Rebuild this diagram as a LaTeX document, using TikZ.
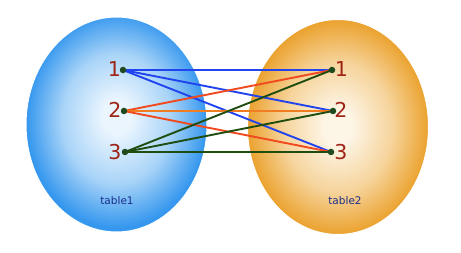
\documentclass[tikz,border=0pt]{standalone}
\usepackage{fontspec}
\setmainfont{DejaVu Sans}
\usetikzlibrary{shapes.geometric}
\definecolor{bin}{HTML}{EAF5FE}
\definecolor{bmid}{HTML}{A9D4F8}
\definecolor{bout}{HTML}{3597EE}
\definecolor{oin}{HTML}{FDF5E6}
\definecolor{omid}{HTML}{F6D49C}
\definecolor{oout}{HTML}{EBA22E}
\definecolor{lblue}{HTML}{2244EE}
\definecolor{lred}{HTML}{F04A1E}
\definecolor{lorange}{HTML}{F07D22}
\definecolor{lgreen}{HTML}{1F4D10}
\definecolor{numred}{HTML}{9E2417}
\definecolor{dotgreen}{HTML}{1E4A1E}
\definecolor{navy}{HTML}{1A2E8C}
\pgfdeclareradialshading{blueball}{\pgfpoint{0bp}{2bp}}{color(0bp)=(bin); color(4bp)=(bin); color(15bp)=(bmid); color(25bp)=(bout); color(50bp)=(bout)}
\pgfdeclareradialshading{orangeball}{\pgfpoint{0bp}{0bp}}{color(0bp)=(oin); color(4bp)=(oin); color(15bp)=(omid); color(25bp)=(oout); color(50bp)=(oout)}
\tikzset{
  tablebox/.style={ellipse, inner sep=0pt, minimum width=181pt, minimum height=215pt},
  conn/.style={line width=1.9pt},
  dotnode/.style={circle, fill=dotgreen, inner sep=0pt, minimum size=6.5pt},
  numlabel/.style={text=numred, font=\fontsize{20.5}{20}\selectfont, inner sep=0pt},
  tablelabel/.style={text=navy, font=\fontsize{10.5}{12}\selectfont, inner sep=0pt}
}
\begin{document}
\begin{tikzpicture}[x=1pt,y=-1pt]
\useasboundingbox (0,0) rectangle (461,253);
\node[tablebox, shading=blueball, draw=white, line width=1pt] (t1) at (116.5,124.5) {};
\node[tablebox, shading=orangeball, draw=white, line width=1pt] (t2) at (338,127) {};
\coordinate (l1) at (123,70);
\coordinate (l2) at (124,111);
\coordinate (l3) at (125,152);
\coordinate (r1) at (332,70);
\coordinate (r2) at (333,111);
\coordinate (r3) at (331,152);
\draw[conn, lblue] (l1) -- (r1);
\draw[conn, lblue] (l1) -- (r2);
\draw[conn, lblue] (l1) -- (r3);
\draw[conn, lred] (l2) -- (r1);
\draw[conn, lorange] (l2) -- (r2);
\draw[conn, lred] (l2) -- (r3);
\draw[conn, lgreen] (l3) -- (r1);
\draw[conn, lgreen] (l3) -- (r2);
\draw[conn, lgreen] (l3) -- (r3);
\node[dotnode] (dl1) at (l1) {};
\node[dotnode] (dl2) at (l2) {};
\node[dotnode] (dl3) at (l3) {};
\node[dotnode] (dr1) at (r1) {};
\node[dotnode] (dr2) at (r2) {};
\node[dotnode] (dr3) at (r3) {};
\node[numlabel] (nl1) at (114.5,69) {1};
\node[numlabel] (nl2) at (115,110) {2};
\node[numlabel] (nl3) at (115,152) {3};
\node[numlabel] (nr1) at (341.5,69) {1};
\node[numlabel] (nr2) at (341,110) {2};
\node[numlabel] (nr3) at (341,152) {3};
\node[tablelabel] (lab1) at (117,201) {table1};
\node[tablelabel] (lab2) at (345,201) {table2};
\end{tikzpicture}
\end{document}
